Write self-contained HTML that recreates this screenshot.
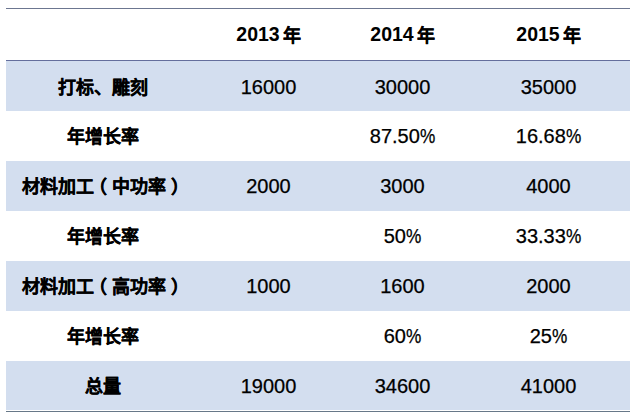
<!DOCTYPE html>
<html lang="zh-CN"><head><meta charset="utf-8">
<style>
html,body{margin:0;padding:0;background:#fff;width:637px;height:416px;overflow:hidden;}
body{position:relative;font-family:"Liberation Sans",sans-serif;color:#000;}
.ln{position:absolute;left:6px;width:624px;height:1px;background:#6c7690;}
.bg{position:absolute;left:6px;width:624px;height:50px;background:#d3deef;}
.row{position:absolute;left:0;width:637px;height:50px;}
.c{-webkit-text-stroke:0.25px #000;position:absolute;top:0;height:50px;line-height:50px;white-space:nowrap;text-align:center;width:200px;}
.c0{left:3px;top:1px;font-weight:bold;font-size:18px;-webkit-text-stroke:0.2px #000;}
.pl{position:relative;left:-5px;}.pr{position:relative;left:5px;}
.c1{left:168.5px;font-size:20px;top:0px;}
.c2{left:302.5px;font-size:20px;top:0px;}
.c3{left:448.5px;font-size:20px;top:0px;}
.r1 .c{top:1px;}
.r1 .c0{top:2px;}
.hd .c{font-weight:bold;font-size:19.5px;top:0px;-webkit-text-stroke:0;}
.p{display:inline-block;transform:scaleX(0.86);transform-origin:0 50%;margin-right:-2.5px;}
.n{-webkit-text-stroke:0.2px #000;font-size:18px;position:relative;top:1px;margin-left:3px;}
</style></head><body>
<div class="ln" style="top:8px"></div>
<div class="ln" style="top:60px;background:#646e9c"></div>
<div class="bg" style="top:61px"></div>
<div class="bg" style="top:161px"></div>
<div class="bg" style="top:261px"></div>
<div class="bg" style="top:361px;height:49px"></div>
<div class="ln" style="top:411px;background:#677888"></div>

<div class="row hd" style="top:9px;height:51px">
  <div class="c c1">2013<span class="n">年</span></div>
  <div class="c c2">2014<span class="n">年</span></div>
  <div class="c c3">2015<span class="n">年</span></div>
</div>
<div class="row r1" style="top:61px">
  <div class="c c0">打标、雕刻</div>
  <div class="c c1">16000</div>
  <div class="c c2">30000</div>
  <div class="c c3">35000</div>
</div>
<div class="row" style="top:111px">
  <div class="c c0">年增长率</div>
  <div class="c c2">87.50<span class="p">%</span></div>
  <div class="c c3">16.68<span class="p">%</span></div>
</div>
<div class="row" style="top:161px">
  <div class="c c0">材料加工<span class="pl">（</span>中功率<span class="pr">）</span></div>
  <div class="c c1">2000</div>
  <div class="c c2">3000</div>
  <div class="c c3">4000</div>
</div>
<div class="row" style="top:211px">
  <div class="c c0">年增长率</div>
  <div class="c c2">50<span class="p">%</span></div>
  <div class="c c3">33.33<span class="p">%</span></div>
</div>
<div class="row" style="top:261px">
  <div class="c c0">材料加工<span class="pl">（</span>高功率<span class="pr">）</span></div>
  <div class="c c1">1000</div>
  <div class="c c2">1600</div>
  <div class="c c3">2000</div>
</div>
<div class="row" style="top:311px">
  <div class="c c0">年增长率</div>
  <div class="c c2">60<span class="p">%</span></div>
  <div class="c c3">25<span class="p">%</span></div>
</div>
<div class="row" style="top:361px">
  <div class="c c0">总量</div>
  <div class="c c1">19000</div>
  <div class="c c2">34600</div>
  <div class="c c3">41000</div>
</div>
</body></html>
